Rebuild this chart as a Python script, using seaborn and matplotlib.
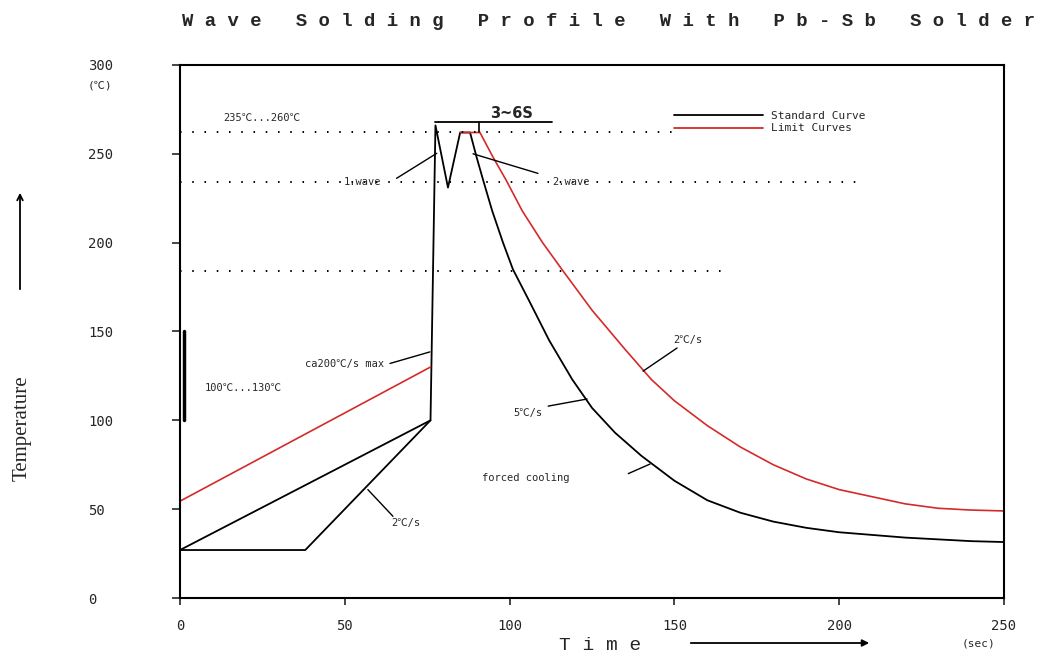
import numpy as np
import pandas as pd
import matplotlib.pyplot as plt
import seaborn as sns
from matplotlib.lines import Line2D

# standard curve: preheat (two ways), double wave, cooling
std_pre_t = [0, 76]
std_pre_T = [27, 100]
std_t = [0, 38, 76, 77.5, 81.3, 85, 88, 90, 92, 94.7, 98, 101, 106, 112, 119,
         125, 132, 140, 150, 160, 170, 180, 190, 200, 210, 220, 230, 240, 250]
std_T = [27, 27, 100, 266, 231, 262, 262, 248, 235, 218, 200, 185, 167, 145, 123,
         107, 93, 80, 66, 55, 48, 43, 39.5, 37, 35.5, 34, 33, 32, 31.5]

# limit curves
lim_pre_t = [0, 76]
lim_pre_T = [54.5, 130]
lim_t = [85, 91, 95, 99, 103.8, 110, 116, 125, 135, 143, 150, 160, 170, 180,
         190, 200, 210, 220, 230, 240, 250]
lim_T = [262, 262, 248, 235, 218, 200, 184.6, 162, 140, 123, 111, 97, 85, 75,
         67, 61, 57, 53, 50.5, 49.5, 49]

# dotted reference levels and where they stop
ref_levels = [262, 234, 184]
ref_ends = [150, 208, 164]
preheat_band = [100, 150]
dwell_t = [77.5, 113]
dwell_T = 268

# labels: text, x, y, ha, leader line (x0, y0, x1, y1) or None
notes = [
    ("235℃...260℃", 13, 270, "left", None),
    ("1.wave", 61, 234, "right", (65.7, 236.2, 77.9, 250.3)),
    ("2.wave", 113, 234, "left", (88.9, 250, 108.6, 239)),
    ("ca200℃/s max", 62, 131.7, "right", (63.7, 132, 75.8, 138.5)),
    ("100℃...130℃", 7.6, 118, "left", None),
    ("2℃/s", 64, 42, "left", (64.6, 46, 57, 61)),
    ("5℃/s", 101, 104, "left", (111.7, 108, 123.5, 112)),
    ("forced cooling", 91.6, 67.5, "left", (136, 70, 142.6, 75.4)),
    ("2℃/s", 149.6, 145, "left", (150.8, 140.7, 140.5, 127.7)),
]

sns.set_style("ticks")
mono = ["DejaVu Sans Mono", "Noto Sans CJK SC"]
plt.rcParams["font.family"] = ["DejaVu Sans", "Noto Sans CJK SC"]

fig = plt.figure(figsize=(10.62, 6.57), dpi=100)
ax = fig.add_axes([0.1695, 0.0898, 0.7759, 0.8113])

red = "#d42a2a"
sns.lineplot(x=std_t, y=std_T, sort=False, estimator=None, color="black", lw=1.3, ax=ax)
sns.lineplot(x=std_pre_t, y=std_pre_T, sort=False, estimator=None, color="black", lw=1.3, ax=ax)
sns.lineplot(x=lim_pre_t, y=lim_pre_T, sort=False, estimator=None, color=red, lw=1.2, ax=ax)
sns.lineplot(x=lim_t, y=lim_T, sort=False, estimator=None, color=red, lw=1.2, ax=ax)

ax.hlines(ref_levels, 0, ref_ends, colors="black", linestyles=(0, (0.8, 5.5)), lw=1.4)
ax.plot([1.2, 1.2], preheat_band, color="black", lw=2.5, clip_on=False)

# 3~6S dwell bracket
ax.plot(dwell_t, [dwell_T, dwell_T], color="black", lw=1.3)
ax.plot([90.7, 90.7], [dwell_T, 262], color="black", lw=1.2)
ax.text(94, dwell_T + 0.5, "3~6S", fontsize=10.5, fontweight="bold", va="bottom")

for txt, x, y, ha, lead in notes:
    ax.text(x, y, txt, fontsize=7.5, ha=ha, va="center", family=mono)
    if lead is not None:
        ax.plot([lead[0], lead[2]], [lead[1], lead[3]], color="black", lw=1.0)

handles = [Line2D([], [], color="black", lw=1.3), Line2D([], [], color=red, lw=1.3)]
ax.legend(handles, ["Standard Curve", "Limit Curves"], loc="upper left",
          bbox_to_anchor=(150, 274), bbox_transform=ax.transData, frameon=False,
          handlelength=8, handletextpad=0.7, labelspacing=0.2,
          borderpad=0, borderaxespad=0, prop={"family": mono, "size": 8})

ax.set_xlim(0, 250)
ax.set_ylim(0, 300)
ax.set_xticks([0, 50, 100, 150, 200, 250])
ax.set_yticks([0, 50, 100, 150, 200, 250, 300])
ax.set_xlabel("")
ax.set_ylabel("")
for s in ax.spines.values():
    s.set_visible(True)
    s.set_linewidth(1.5)
    s.set_color("black")
ax.tick_params(axis="x", length=5, width=1.2, pad=10, labelsize=10)
ax.tick_params(axis="y", length=6, width=1.2, pad=60, labelsize=10)
for lab in ax.get_yticklabels():
    lab.set_ha("left")
    lab.set_family(mono)
for lab in ax.get_xticklabels():
    lab.set_family(mono)

fig.text(88 / 1062, 1 - 86 / 657, "(℃)", fontsize=8, family=mono, va="center")
fig.text(962 / 1062, 1 - 643 / 657, "(sec)", fontsize=8, family=mono, va="center")

fig.text(182 / 1062, 1 - 22 / 657,
         "W a v e   S o l d i n g   P r o f i l e   W i t h   P b - S b   S o l d e r",
         fontsize=13.6, fontweight="bold", family="Liberation Mono", va="center", ha="left")
fig.text(22 / 1062, 1 - 428 / 657, "Temperature", rotation=90, fontsize=15,
         family="Liberation Serif", va="center", ha="center")
fig.text(600 / 1062, 1 - 645 / 657, "T i m e", fontsize=14, family="Liberation Mono",
         va="center", ha="center")
ax.annotate("", xy=(20 / 1062, 1 - 190 / 657), xytext=(20 / 1062, 1 - 292 / 657),
            xycoords="figure fraction", textcoords="figure fraction",
            arrowprops=dict(arrowstyle="->", lw=1.3, color="black"))
ax.annotate("", xy=(872 / 1062, 1 - 643 / 657), xytext=(688 / 1062, 1 - 643 / 657),
            xycoords="figure fraction", textcoords="figure fraction",
            arrowprops=dict(arrowstyle="-|>", lw=1.3, color="black"))

fig.savefig("out.png", dpi=100)
